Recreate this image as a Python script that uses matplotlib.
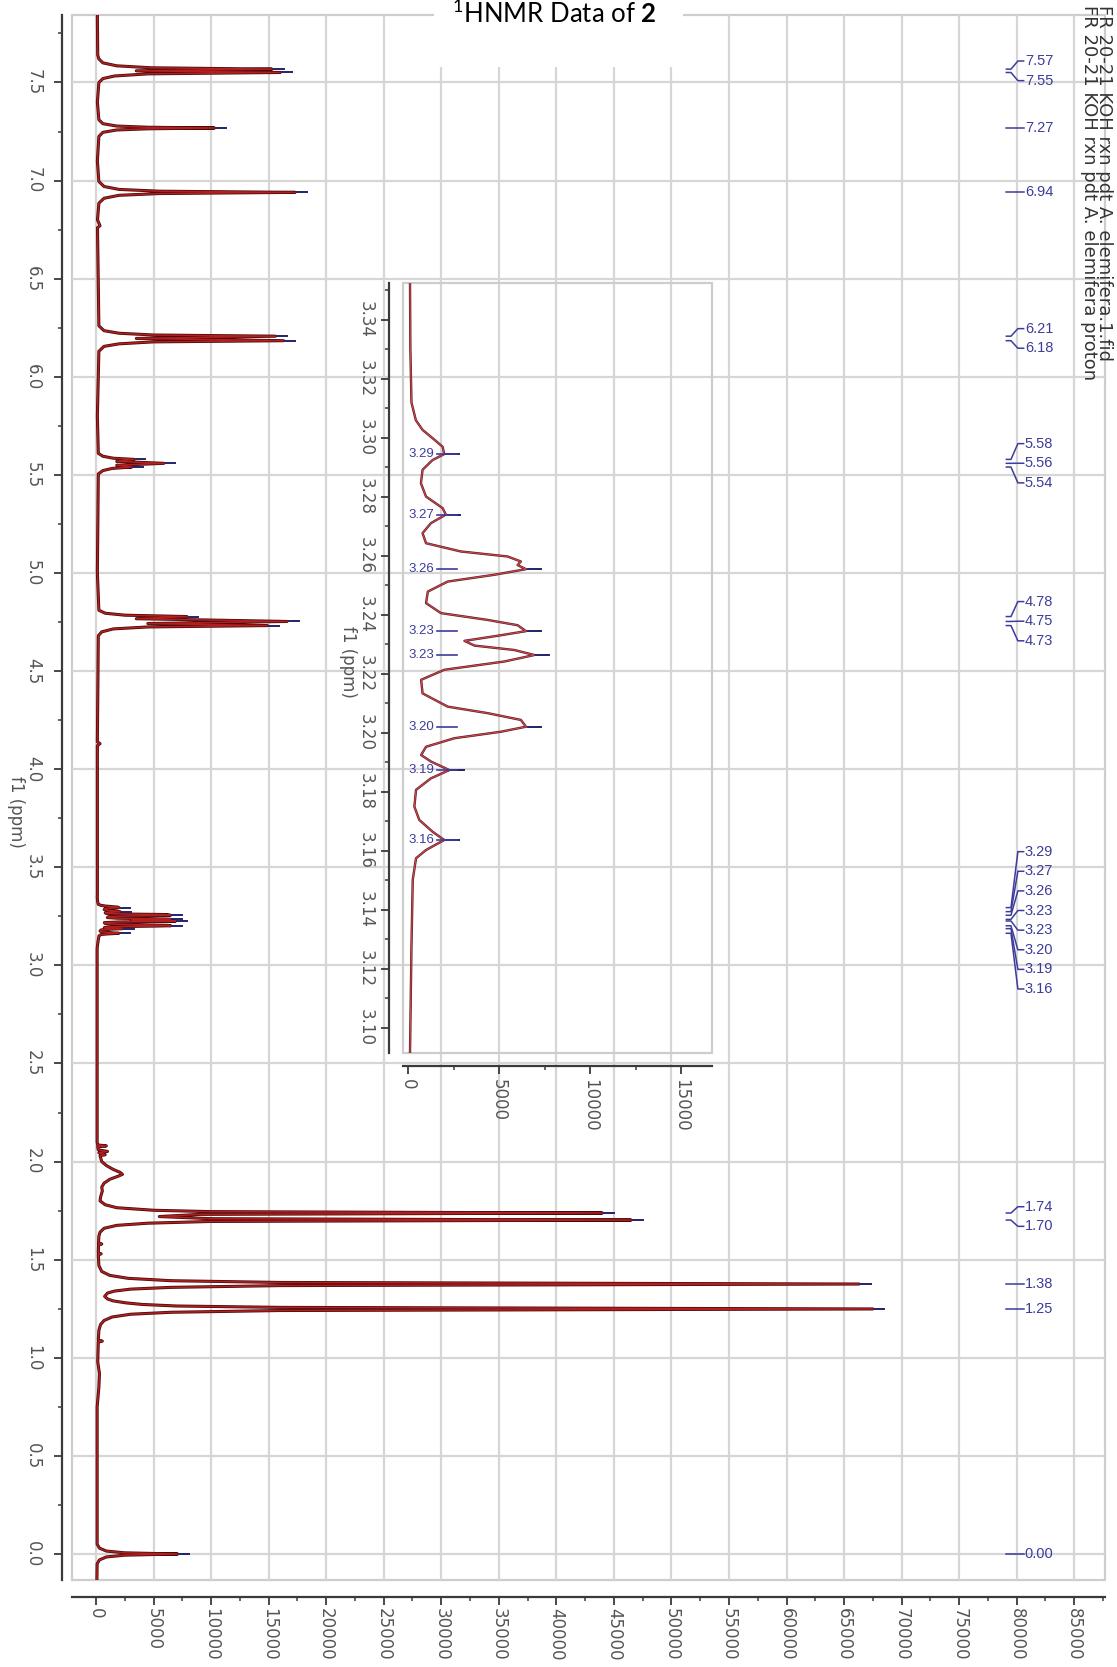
import numpy as np
import matplotlib.pyplot as plt
from matplotlib.patches import Rectangle
from matplotlib.ticker import MultipleLocator, FormatStrFormatter

plt.rcParams['mathtext.fontset'] = 'custom'
plt.rcParams['mathtext.rm'] = 'Lato'
plt.rcParams['mathtext.bf'] = 'Lato:bold'

# 1H trace, downfield part (ppm, intensity)
hi_ppm = [7.84, 7.64, 7.62, 7.60, 7.585, 7.575, 7.568, 7.5595, 7.551, 7.544, 7.533, 7.52, 7.50, 7.40,
          7.31, 7.29, 7.278, 7.272, 7.268, 7.264, 7.258, 7.246, 7.225, 7.10,
          6.995, 6.97, 6.955, 6.946, 6.940, 6.934, 6.925, 6.91, 6.885, 6.80, 6.77, 6.76,
          6.26, 6.235, 6.222, 6.213, 6.207, 6.1955, 6.184, 6.178, 6.168, 6.155, 6.13, 5.80,
          5.61, 5.595, 5.585, 5.579, 5.569, 5.559, 5.549, 5.540, 5.533, 5.522, 5.505, 5.00,
          4.81, 4.795, 4.785, 4.778, 4.767, 4.753, 4.7425, 4.732, 4.725, 4.715, 4.70, 4.68,
          4.14, 4.13, 4.12, 3.36]
hi_int = [120, 150, 250, 600, 1800, 4800, 15300, 3500, 16000, 4500, 1600, 600, 250, 120,
          250, 600, 1800, 4500, 10300, 4500, 1800, 600, 250, 120,
          250, 700, 2000, 5500, 17300, 5500, 2000, 700, 250, 130, 350, 130,
          250, 700, 2000, 5000, 15600, 3500, 16300, 5000, 2000, 700, 250, 120,
          200, 600, 1500, 3300, 1800, 5900, 1800, 3100, 1400, 600, 200, 120,
          250, 800, 2500, 7900, 3500, 16600, 4500, 14900, 4500, 1500, 500, 200,
          120, 350, 120, 120]

# 3.35-3.09 ppm multiplet
mult_ppm = [3.352, 3.330, 3.312, 3.306, 3.3027, 3.2999, 3.2970, 3.2945, 3.2925, 3.2892,
            3.2846, 3.2801, 3.2762, 3.2740, 3.2711, 3.2677, 3.2643, 3.2615, 3.2598, 3.2581,
            3.2569, 3.2555, 3.2536, 3.2513, 3.2479, 3.2440, 3.2406, 3.2383, 3.2365, 3.2345,
            3.2330, 3.2312, 3.2296, 3.2281, 3.2264, 3.2242, 3.2214, 3.2180, 3.2134, 3.2089,
            3.2067, 3.2044, 3.2021, 3.2004, 3.1982, 3.1953, 3.1925, 3.1903, 3.1874, 3.1846,
            3.1807, 3.1750, 3.1705, 3.1665, 3.1637, 3.1603, 3.1575, 3.1502, 3.1276, 3.0916]
mult_int = [110, 130, 190, 430, 800, 1350, 1900, 1990, 1350, 800,
            710, 990, 1900, 2080, 1260, 800, 990, 2900, 5470, 6200,
            6020, 6480, 4740, 2180, 1090, 990, 1810, 4370, 6020, 6480,
            5000, 3100, 3650, 5840, 6940, 5290, 2000, 720, 800, 2180,
            4370, 6200, 6480, 5110, 2550, 990, 720, 1260, 2270, 1260,
            440, 350, 620, 1350, 1990, 990, 440, 260, 190, 110]

# upfield part
lo_ppm = [3.08, 2.10, 2.085, 2.08, 2.075, 2.06, 2.052, 2.045, 2.035, 2.03, 2.00, 1.98, 1.96,
          1.945, 1.935, 1.925, 1.91, 1.89, 1.87, 1.85, 1.82,
          1.80, 1.78, 1.765, 1.752, 1.745, 1.738, 1.731, 1.720, 1.709, 1.702, 1.695, 1.686,
          1.675, 1.66, 1.64, 1.62, 1.585, 1.58, 1.575, 1.535, 1.53, 1.525, 1.47,
          1.44, 1.42, 1.405, 1.393, 1.384, 1.376, 1.368, 1.359, 1.35, 1.34, 1.33, 1.313,
          1.30, 1.29, 1.28, 1.272, 1.264, 1.257, 1.249, 1.241, 1.232, 1.222, 1.208, 1.19,
          1.17, 1.14, 1.09, 1.085, 1.08, 0.98, 0.92, 0.85, 0.75,
          0.05, 0.03, 0.015, 0.006, 0.0, -0.006, -0.015, -0.03, -0.05, -0.13]
lo_int = [100, 100, 150, 900, 150, 200, 1000, 250, 800, 350, 500, 900, 1500,
          2100, 2300, 1900, 1200, 700, 500, 550, 400,
          350, 800, 1800, 5000, 10000, 44000, 9000, 5500, 10000, 46500, 10000, 4500,
          1800, 700, 350, 250, 220, 500, 220, 200, 450, 200, 250,
          500, 1200, 2800, 6500, 16000, 66300, 16000, 6500, 3000, 1600, 1000, 750,
          1000, 1500, 2600, 4000, 7000, 16000, 67500, 16000, 6500, 3000, 1400, 700,
          400, 250, 200, 550, 200, 150, 300, 250, 100,
          100, 300, 900, 2500, 7100, 2500, 900, 300, 100, 80]

# picked peaks, grouped the way they are labelled
peak_groups = [[7.568, 7.551], [7.268], [6.940], [6.207, 6.184],
               [5.579, 5.559, 5.540], [4.778, 4.753, 4.732],
               [3.2945, 3.2740, 3.2555, 3.2345, 3.2264, 3.2021, 3.1874, 3.1637],
               [1.738, 1.702], [1.376], [1.249], [0.0]]
mult_peaks = peak_groups[6]

file_lines = ['FR 20-21 KOH rxn pdt A. elemifera.1.fid',
              'FR 20-21 KOH rxn pdt A. elemifera proton']

W, H = 1117, 1667
fig = plt.figure(figsize=(W / 100, H / 100), dpi=100)


def px_box(x0, y0, x1, y1):
    return [x0 / W, 1 - y1 / H, (x1 - x0) / W, (y1 - y0) / H]


grid_c = '#d6d6d6'
axis_c = '#3a3a3a'
lab_c = '#555555'
navy = '#3c3c9c'
mark_c = '#22226a'

ppm = np.array(hi_ppm + mult_ppm + lo_ppm)
inten = np.array(hi_int + mult_int + lo_int)


def tip(p):
    return np.interp(p, ppm[::-1], inten[::-1])


def style_axes(a, left_out, bottom_out, xmaj, xmin, ymaj, ymin, yfmt, ypad, xpad):
    a.xaxis.set_major_locator(MultipleLocator(xmaj))
    a.xaxis.set_minor_locator(MultipleLocator(xmin))
    a.yaxis.set_major_locator(MultipleLocator(ymaj))
    a.yaxis.set_minor_locator(MultipleLocator(ymin))
    a.yaxis.set_major_formatter(FormatStrFormatter(yfmt))
    for s in ['top', 'right']:
        a.spines[s].set_visible(False)
    a.spines['left'].set_position(('outward', left_out))
    a.spines['bottom'].set_position(('outward', bottom_out))
    for s in ['left', 'bottom']:
        a.spines[s].set_color(axis_c)
        a.spines[s].set_linewidth(1.6)
    a.add_patch(Rectangle((0, 0), 1, 1, transform=a.transAxes, fill=False,
                          ec='#cdcdcd', lw=1.6, clip_on=False, zorder=1))
    a.tick_params(which='major', direction='out', length=5.5, width=1.3,
                  color=axis_c, labelsize=12, labelcolor=lab_c)
    a.tick_params(which='minor', direction='out', length=3, width=1.1, color=axis_c)
    a.tick_params(axis='y', which='major', pad=ypad)
    a.tick_params(axis='x', which='major', pad=xpad)
    plt.setp(a.get_yticklabels(), rotation=270, va='center')
    plt.setp(a.get_xticklabels(), rotation=270, ha='center')


# main spectrum
ax = fig.add_axes(px_box(72, 15, 1105, 1580))
ax.plot(inten, ppm, color='#4a0a0a', lw=2.2, zorder=3)
ax.plot(inten, ppm, color='#b02020', lw=1.1, zorder=4)
ax.set_xlim(-2085, 87670)
ax.set_ylim(-0.1325, 7.844)
ax.grid(True, which='major', color=grid_c, lw=1.6, zorder=0)
style_axes(ax, 7, 12, 5000, 2500, 0.5, 0.25, '%.1f', 9, 3)

# peak markers and labels down the right side
for group in peak_groups:
    n = len(group)
    centre = np.mean(group)
    for k, p in enumerate(group):
        h = tip(p)
        ax.plot([h + 150, h + 1000], [p, p], color=mark_c, lw=1.4, zorder=5)
        ly = centre + ((n - 1) / 2 - k) * 0.1
        ax.plot([79100, 79500, 80100, 80600], [p, p, ly, ly], color=navy, lw=1.1, zorder=5)
        ax.text(80700, ly, f'{p:.2f}', color=navy, fontsize=10.5, family='Liberation Sans',
                ha='left', va='center', zorder=5)

fig.text(16 / W, 1 - 812 / H, 'f1 (ppm)', rotation=270, ha='center', va='center',
         fontsize=12, color=lab_c)

# expansion of the 3.2 ppm multiplet
axi = fig.add_axes(px_box(403, 283, 712, 1053))
axi.patch.set_alpha(0)
axi.plot(mult_int, mult_ppm, color='#5a1a2a', lw=1.7, zorder=3)
axi.plot(mult_int, mult_ppm, color='#d04848', lw=0.8, zorder=4)
axi.set_xlim(-275, 16700)
axi.set_ylim(3.0915, 3.3525)
style_axes(axi, 10, 9, 5000, 2500, 0.02, 0.01, '%.2f', 5, 4)
for p in mult_peaks:
    h = tip(p)
    axi.plot([h + 100, h + 800], [p, p], color=mark_c, lw=1.4, zorder=5)
    axi.plot([1600, 2700], [p, p], color=navy, lw=1.2, zorder=5)
    axi.text(0, p, f'{p:.2f}', color=navy, fontsize=9.5, family='Liberation Sans',
             ha='left', va='center', zorder=5)

fig.text(348 / W, 1 - 662 / H, 'f1 (ppm)', rotation=270, ha='center', va='center',
         fontsize=12, color=lab_c)

# file names, top right
for x, s in zip([1104, 1089], file_lines):
    fig.text(x / W, 1 - 5 / H, s, rotation=270, ha='center', va='top',
             fontsize=13, color='#333333')

# title on a white tab
fig.add_artist(Rectangle((434 / W, 1 - 67 / H), 249 / W, 67 / H, transform=fig.transFigure,
                         fc='white', ec='none', zorder=10))
fig.text(452 / W, 1 - 23 / H, r'$^{1}$HNMR Data of $\mathbf{2}$', family='Lato',
         fontsize=18.5, ha='left', va='baseline', color='black', zorder=11)

fig.savefig('out.png', dpi=100)
